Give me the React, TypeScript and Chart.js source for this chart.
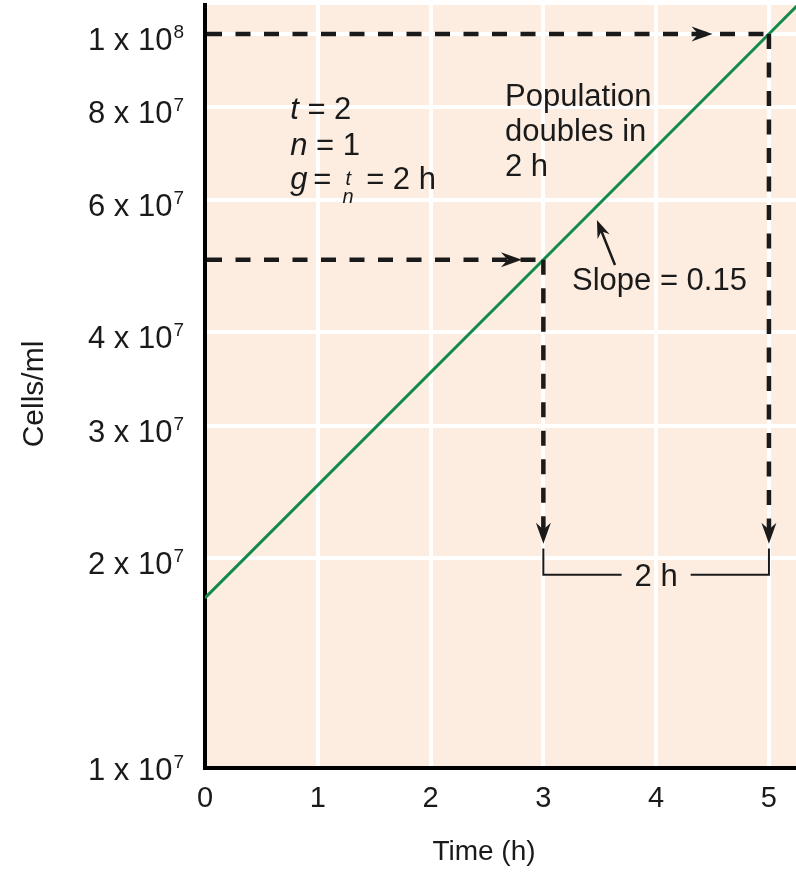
import React, { useEffect, useRef } from "react";
import { Chart, registerables } from "chart.js";

Chart.register(...registerables);

// ---------- data ----------
const timeHours = [0, 3, 5, 5.3];
const cellsPerMl = [1.77e7, 5e7, 1e8, 1.11e8];
const xTickValues = [0, 1, 2, 3, 4, 5];
const yTickValues = [1e7, 2e7, 3e7, 4e7, 6e7, 8e7, 1e8];
const yTickMantissas = ["1", "2", "3", "4", "6", "8", "1"];
const yTickExponents = ["7", "7", "7", "7", "7", "7", "8"];
const xTitle = "Time (h)";
const yTitle = "Cells/ml";
const noteLines = ["t = 2", "n = 1"];
const populationLines = ["Population", "doubles in", "2 h"];
const slopeLabel = "Slope = 0.15";
const intervalLabel = "2 h";

// axis range
const X_MIN = 0;
const X_MAX = 5.24;
const Y_MIN = 1.05e7;
const Y_MAX = 1.093e8;

// annotation anchors (data coordinates)
const startPoint = { t: 3, v: 5e7 };
const endPoint = { t: 5, v: 1e8 };
const hArrowTips = [2.81, 4.5];
const vArrowTipV = 2.09e7;
const bracketTopV = 2.06e7;
const bracketBottomV = 1.9e7;
const intervalLabelT = 4.0;
const slopeArrowTail = { t: 3.635, v: 4.92e7 };
const slopeArrowTip = { t: 3.475, v: 5.65e7 };
const slopeTextAnchor = { t: 3.254, v: 4.56e7 };
const noteAnchor = { t: 0.755, v: 7.7e7 };
const populationAnchor = { t: 2.66, v: 8.02e7 };

const FONT = '"Liberation Sans", Arial, Helvetica, sans-serif';
const INK = "#1a1a1a";
const GREEN = "#128a4a";
const BG = "#fcede0";
const TXT = 31;

function arrowHead(ctx: CanvasRenderingContext2D, x: number, y: number, angle: number, L: number, W: number) {
  ctx.save();
  ctx.translate(x, y);
  ctx.rotate(angle);
  ctx.beginPath();
  ctx.moveTo(0, 0);
  ctx.lineTo(-L, -W / 2);
  ctx.lineTo(-0.68 * L, 0);
  ctx.lineTo(-L, W / 2);
  ctx.closePath();
  ctx.fill();
  ctx.restore();
}

function seg(ctx: CanvasRenderingContext2D, x1: number, y1: number, x2: number, y2: number) {
  ctx.beginPath();
  ctx.moveTo(x1, y1);
  ctx.lineTo(x2, y2);
  ctx.stroke();
}

function font(size: number, italic = false) {
  return `${italic ? "italic " : ""}${size}px ${FONT}`;
}

// draw "t = 2" style: first char italic, rest regular
function varEq(ctx: CanvasRenderingContext2D, s: string, x: number, y: number, size: number) {
  const v = s.charAt(0);
  const rest = s.slice(1);
  ctx.font = font(size, true);
  ctx.fillText(v, x, y);
  const w = ctx.measureText(v).width;
  ctx.font = font(size);
  ctx.fillText(rest, x + w, y);
}

const bgPlugin = {
  id: "bg",
  beforeDraw(chart: any) {
    const { ctx, chartArea, width, height } = chart;
    ctx.save();
    ctx.fillStyle = "#ffffff";
    ctx.fillRect(0, 0, width, height);
    ctx.fillStyle = BG;
    ctx.fillRect(chartArea.left, chartArea.top, chartArea.right - chartArea.left, chartArea.bottom - chartArea.top);
    ctx.restore();
  },
};

const annotationPlugin = {
  id: "annotations",
  afterDatasetsDraw(chart: any) {
    const { ctx, chartArea } = chart;
    const xs = chart.scales.x;
    const ys = chart.scales.y;
    const px = (t: number) => xs.getPixelForValue(t);
    const py = (v: number) => ys.getPixelForValue(v);

    ctx.save();
    ctx.strokeStyle = INK;
    ctx.fillStyle = INK;
    ctx.lineCap = "butt";

    // dashed guides
    ctx.lineWidth = 4.5;
    ctx.setLineDash([15, 13.5]);
    const x3 = px(startPoint.t);
    const x5 = px(endPoint.t);
    const y5e7 = py(startPoint.v);
    const y1e8 = py(endPoint.v);
    const yTip = py(vArrowTipV);
    seg(ctx, chartArea.left + 2, y5e7, x3, y5e7);
    seg(ctx, chartArea.left + 2, y1e8, x5, y1e8);
    seg(ctx, x3, y5e7, x3, yTip - 12);
    seg(ctx, x5, y1e8, x5, yTip - 12);
    ctx.setLineDash([]);
    arrowHead(ctx, px(hArrowTips[0]), y5e7, 0, 21, 15);
    arrowHead(ctx, px(hArrowTips[1]), y1e8, 0, 21, 15);
    arrowHead(ctx, x3, yTip, Math.PI / 2, 21, 15);
    arrowHead(ctx, x5, yTip, Math.PI / 2, 21, 15);

    // bracket
    ctx.lineWidth = 2;
    const bTop = py(bracketTopV);
    const bBot = py(bracketBottomV);
    const lx = px(intervalLabelT);
    ctx.font = font(TXT);
    const lw = ctx.measureText(intervalLabel).width;
    const gap = lw / 2 + 13;
    ctx.beginPath();
    ctx.moveTo(x3, bTop);
    ctx.lineTo(x3, bBot);
    ctx.lineTo(lx - gap, bBot);
    ctx.stroke();
    ctx.beginPath();
    ctx.moveTo(lx + gap, bBot);
    ctx.lineTo(x5, bBot);
    ctx.lineTo(x5, bTop);
    ctx.stroke();
    ctx.textAlign = "center";
    ctx.textBaseline = "alphabetic";
    ctx.fillText(intervalLabel, lx, bBot + 11);

    // slope arrow
    const tx = px(slopeArrowTail.t), ty = py(slopeArrowTail.v);
    const hx = px(slopeArrowTip.t), hy = py(slopeArrowTip.v);
    const ang = Math.atan2(hy - ty, hx - tx);
    ctx.lineWidth = 2.5;
    seg(ctx, tx, ty, hx - Math.cos(ang) * 10, hy - Math.sin(ang) * 10);
    arrowHead(ctx, hx, hy, ang, 18, 13);

    // texts
    ctx.textAlign = "left";
    ctx.font = font(TXT);
    ctx.fillText(slopeLabel, px(slopeTextAnchor.t), py(slopeTextAnchor.v));

    const popX = px(populationAnchor.t);
    const popY = py(populationAnchor.v);
    populationLines.forEach((s, i) => ctx.fillText(s, popX, popY + i * 35));

    const nX = px(noteAnchor.t);
    const nY = py(noteAnchor.v);
    noteLines.forEach((s, i) => varEq(ctx, s, nX, nY + i * 36, TXT));
    // g = t/n = 2 h
    const gY = nY + 70;
    ctx.font = font(TXT, true);
    ctx.fillText("g", nX, gY);
    ctx.font = font(TXT);
    ctx.fillText("=", nX + 23, gY);
    ctx.font = font(20, true);
    ctx.textAlign = "center";
    ctx.fillText("t", nX + 58, gY - 4);
    ctx.fillText("n", nX + 58, gY + 14);
    ctx.textAlign = "left";
    ctx.font = font(TXT);
    ctx.fillText("= 2 h", nX + 76, gY);

    ctx.restore();
  },
  afterDraw(chart: any) {
    const { ctx } = chart;
    const ys = chart.scales.y;
    ctx.save();
    ctx.fillStyle = INK;
    ctx.textBaseline = "alphabetic";
    ctx.textAlign = "left";
    const right = 184;
    yTickValues.forEach((v, i) => {
      const y = ys.getPixelForValue(Math.max(v, ys.min));
      const base = `${yTickMantissas[i]} x 10`;
      ctx.font = font(19);
      const ew = ctx.measureText(yTickExponents[i]).width;
      ctx.font = font(TXT);
      const bw = ctx.measureText(base).width;
      const off = v < ys.min ? 12 : 16;
      ctx.fillText(base, right - ew - bw - 1, y + off);
      ctx.font = font(19);
      ctx.fillText(yTickExponents[i], right - ew, y + off - 12);
    });
    // axis titles
    ctx.font = font(28);
    ctx.textAlign = "center";
    ctx.fillText(xTitle, 484, 860);
    ctx.save();
    ctx.translate(43, 394);
    ctx.rotate(-Math.PI / 2);
    ctx.font = font(30);
    ctx.fillText(yTitle, 0, 0);
    ctx.restore();
    ctx.restore();
  },
};

export default function App() {
  const ref = useRef<HTMLCanvasElement | null>(null);
  useEffect(() => {
    document.body.style.margin = "0";
    const canvas = ref.current;
    if (!canvas) return;
    const chart = new Chart(canvas, {
      type: "line",
      data: {
        datasets: [
          {
            data: timeHours.map((t, i) => ({ x: t, y: cellsPerMl[i] })),
            borderColor: GREEN,
            borderWidth: 3,
            pointRadius: 0,
            tension: 0,
            fill: false,
            clip: 0,
          } as any,
        ],
      },
      options: {
        responsive: false,
        animation: false,
        devicePixelRatio: 1,
        layout: { padding: { top: 5, right: 0, left: 0, bottom: 0 } },
        plugins: { legend: { display: false }, tooltip: { enabled: false } },
        scales: {
          x: {
            type: "linear",
            min: X_MIN,
            max: X_MAX,
            afterBuildTicks: (s: any) => {
              s.ticks = xTickValues.map((v) => ({ value: v }));
            },
            afterFit: (s: any) => {
              s.height = 107;
            },
            grid: { color: "#ffffff", lineWidth: 4, drawTicks: false },
            border: { color: "#000000", width: 4 },
            ticks: {
              font: { family: FONT, size: 29 },
              color: INK,
              padding: 14,
              maxRotation: 0,
              autoSkip: false,
            },
          },
          y: {
            type: "logarithmic",
            min: Y_MIN,
            max: Y_MAX,
            afterBuildTicks: (s: any) => {
              s.ticks = yTickValues.filter((v) => v >= Y_MIN).map((v) => ({ value: v }));
            },
            afterFit: (s: any) => {
              s.width = 205;
            },
            grid: { color: "#ffffff", lineWidth: 4, drawTicks: false },
            border: { color: "#000000", width: 4 },
            ticks: { display: false },
          },
        },
      } as any,
      plugins: [bgPlugin, annotationPlugin],
    });
    return () => chart.destroy();
  }, []);
  return (
    <div style={{ width: 796, height: 875 }}>
      <canvas ref={ref} width={796} height={875} style={{ display: "block" }} />
    </div>
  );
}
